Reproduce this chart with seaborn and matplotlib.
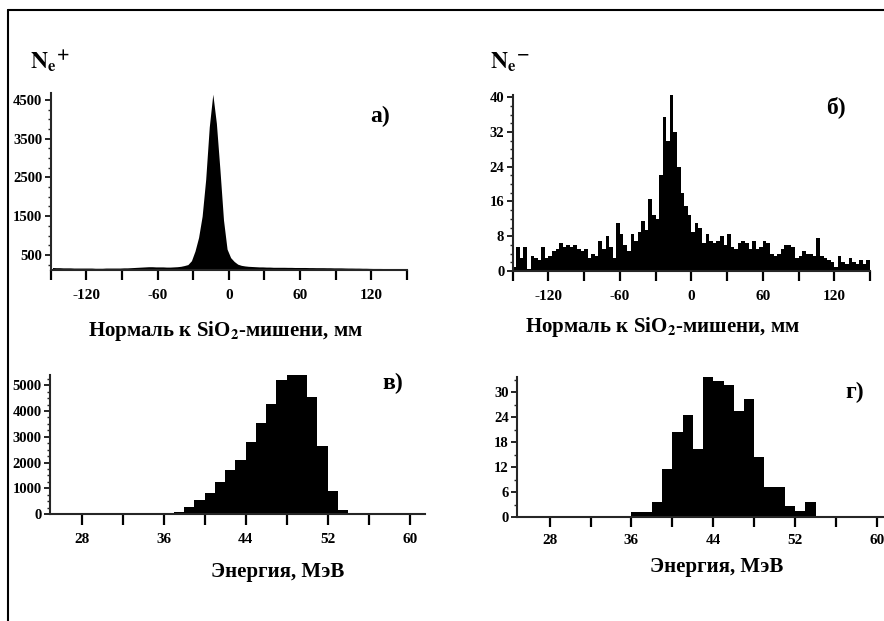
import numpy as np
import pandas as pd
import matplotlib
matplotlib.use("Agg")
import matplotlib.pyplot as plt
import seaborn as sns
from matplotlib.lines import Line2D
from matplotlib.ticker import MultipleLocator, FixedLocator

# ---- data ----
# position along the normal to the SiO2 target, 3 mm bins from -150 to 150
pos_bin = 3
pos_range = (-150, 150)

# a) positrons
pos_counts_plus = [175, 170, 170, 165, 165, 165, 160, 160, 160, 160,
                   160, 160, 155, 155, 155, 160, 160, 160, 160, 160,
                   165, 165, 170, 175, 180, 185, 190, 195, 195, 190,
                   190, 190, 185, 185, 190, 195, 205, 225, 250, 350,
                   600, 950, 1500, 2450, 3800, 4650, 3900, 2700, 1400, 650,
                   430, 330, 260, 230, 215, 205, 200, 195, 190, 190,
                   185, 185, 180, 180, 180, 180, 178, 178, 175, 175,
                   175, 175, 172, 172, 170, 170, 170, 168, 168, 165,
                   165, 165, 162, 160, 160, 158, 158, 155, 155, 152,
                   150, 150, 150, 148, 145, 145, 142, 140, 140, 140]

# б) electrons
pos_counts_minus = [1, 5.5, 3, 5.5, 0.5, 3.5, 3, 2.5, 5.5, 3,
                    3.5, 4.5, 5, 6.5, 5.5, 6, 5.5, 6, 5, 4.5,
                    5, 3, 4, 3.5, 7, 5, 8, 5.5, 3, 11,
                    8.5, 6, 4.5, 8.5, 7, 9, 11.5, 9.5, 16.5, 13,
                    12, 22, 35.5, 30, 41, 32, 24, 18, 15, 13,
                    9, 11, 10, 6.5, 8.5, 7, 6.5, 7, 8, 6,
                    8.5, 5.5, 5, 6.5, 7, 6.5, 5, 7, 5, 5.5,
                    7, 6.5, 4, 3.5, 4, 5, 6, 6, 5.5, 3,
                    3.5, 4.5, 4, 4, 3.5, 7.5, 3.5, 3, 2.5, 2,
                    1, 3.5, 2, 1.5, 3, 2, 1.5, 2.5, 1.5, 2.5]

# energy, 1 MeV bins from 25 to 61
energy_bin = 1
energy_range = (25, 61)

# в) positrons
energy_counts_plus = [25, 25, 25, 25, 25, 25, 25, 25, 25, 25, 25, 30,
                      90, 282, 538, 833, 1244, 1692, 2103, 2782, 3551,
                      4282, 5218, 5385, 5385, 4538, 2654, 885, 154,
                      30, 25, 25, 25, 25, 25, 25]

# г) electrons
energy_counts_minus = [0.25, 0.25, 0.25, 0.25, 0.25, 0.25, 0.25, 0.25, 0.25, 0.25, 0.25,
                       1.3, 1.3, 3.7, 11.5, 20.4, 24.4, 16.3, 33.5, 32.7, 31.6,
                       25.4, 28.4, 14.5, 7.3, 7.3, 2.7, 1.5, 3.7,
                       0.3, 0.3, 0.3, 0.3, 0.3, 0.3, 0.3]

pos_label = r"Нормаль к SiO$_\mathbf{2}$-мишени, мм"
energy_label = "Энергия, МэВ"

sns.set_theme(style="ticks")
plt.rcParams["font.family"] = ["Liberation Serif", "DejaVu Serif"]
plt.rcParams["font.weight"] = "bold"
plt.rcParams["mathtext.fontset"] = "stix"
plt.rcParams["axes.linewidth"] = 1.5

W, H = 884, 621
fig = plt.figure(figsize=(W / 100, H / 100), dpi=100)


def box(l, r, top, bottom):
    # pixel box -> figure fraction
    return [l / W, 1 - bottom / H, (r - l) / W, (bottom - top) / H]


def hist_frame(counts, width, rng):
    centers = rng[0] + width * (np.arange(len(counts)) + 0.5)
    return pd.DataFrame({"x": centers, "n": counts})


def draw_hist(ax, counts, width, rng, element):
    df = hist_frame(counts, width, rng)
    sns.histplot(data=df, x="x", weights="n", binwidth=width, binrange=rng,
                 element=element, fill=True, color="black", alpha=1, linewidth=0, ax=ax)


def style_axis(ax, xticks, label_step, tick_len, tick_pad):
    sns.despine(ax=ax)
    ax.set_xticks(xticks)
    ax.set_xticklabels([str(v) if (v - label_step[0]) % label_step[1] == 0 else ""
                        for v in xticks])
    ax.tick_params(axis="x", direction="out", length=tick_len, width=1.6, pad=tick_pad,
                   labelsize=11, colors="black")
    ax.tick_params(axis="y", which="major", direction="out", length=4, width=1.2, pad=2,
                   labelsize=10.5, colors="black")
    ax.tick_params(axis="y", which="minor", direction="out", length=2.5, width=1.0)
    for lab in ax.get_xticklabels() + ax.get_yticklabels():
        lab.set_fontweight("bold")
    ax.set_xlabel("")
    ax.set_ylabel("")
    ax.set_facecolor("white")


# a)
ax_a = fig.add_axes(box(50.7, 407, 93, 270))
draw_hist(ax_a, pos_counts_plus, pos_bin, pos_range, "poly")
ax_a.set_xlim(-150, 150)
ax_a.set_ylim(110, 4680)
ax_a.yaxis.set_major_locator(FixedLocator([500, 1500, 2500, 3500, 4500]))
ax_a.yaxis.set_minor_locator(MultipleLocator(250))
style_axis(ax_a, list(range(-150, 151, 30)), (0, 60), 7, 7)

# б)
ax_b = fig.add_axes(box(512.7, 870, 95, 271))
draw_hist(ax_b, pos_counts_minus, pos_bin, pos_range, "step")
ax_b.set_xlim(-150, 150)
ax_b.set_ylim(0, 40.5)
ax_b.yaxis.set_major_locator(MultipleLocator(8))
ax_b.yaxis.set_minor_locator(MultipleLocator(2))
style_axis(ax_b, list(range(-150, 151, 30)), (0, 60), 7, 7)

# в)
ax_c = fig.add_axes(box(50, 425, 375, 514))
draw_hist(ax_c, energy_counts_plus, energy_bin, energy_range, "step")
ax_c.set_xlim(24.9, 61.5)
ax_c.set_ylim(0, 5400)
ax_c.yaxis.set_major_locator(MultipleLocator(1000))
ax_c.yaxis.set_minor_locator(MultipleLocator(250))
style_axis(ax_c, list(range(28, 61, 4)), (28, 8), 8, 6)

# г)
ax_d = fig.add_axes(box(517, 884, 377, 517.3))
draw_hist(ax_d, energy_counts_minus, energy_bin, energy_range, "step")
ax_d.set_xlim(24.8, 60.7)
ax_d.set_ylim(0, 33.6)
ax_d.yaxis.set_major_locator(MultipleLocator(6))
ax_d.yaxis.set_minor_locator(MultipleLocator(3))
style_axis(ax_d, list(range(28, 61, 4)), (28, 8), 7, 5)


# axis titles and panel letters
def ftext(px, py, s, **kw):
    fig.text(px / W, 1 - py / H, s, ha="center", va="center", color="black",
             fontweight="bold", **kw)


ftext(225, 331, pos_label, fontsize=15)
ftext(662, 327, pos_label, fontsize=15)
ftext(278, 572, energy_label, fontsize=15)
ftext(717, 567, energy_label, fontsize=15)

ftext(380, 116, "а)", fontsize=17)
ftext(836, 107, "б)", fontsize=17)
ftext(393, 383, "в)", fontsize=17)
ftext(855, 392, "г)", fontsize=17)

ftext(50, 62, r"$\mathbf{N}_{\mathbf{e}}{}^{\mathbf{+}}$", fontsize=17)
ftext(510, 62, r"$\mathbf{N}_{\mathbf{e}}{}^{\mathbf{-}}$", fontsize=17)

# scan frame: top and left border
fig.add_artist(Line2D([8 / W, 1], [1 - 10 / H, 1 - 10 / H], transform=fig.transFigure,
                      color="black", lw=1.5))
fig.add_artist(Line2D([8 / W, 8 / W], [0, 1 - 10 / H], transform=fig.transFigure,
                      color="black", lw=1.5))

fig.savefig("out.png", dpi=100, facecolor="white")
